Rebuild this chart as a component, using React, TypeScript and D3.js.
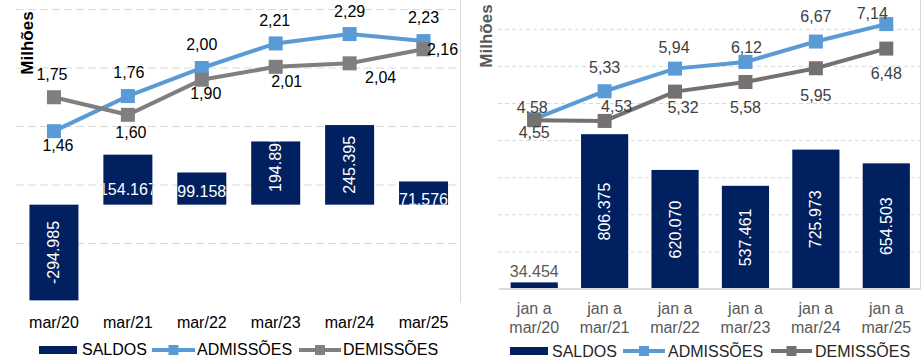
import React from "react";
import * as d3 from "d3";

// ---------- DATA ----------
const leftCategories = ["mar/20", "mar/21", "mar/22", "mar/23", "mar/24", "mar/25"];
const leftSaldos = [-294985, 154167, 99158, 194895, 245395, 71576];
const leftAdmissoes = [1.46, 1.76, 2.0, 2.21, 2.29, 2.23];
const leftDemissoes = [1.75, 1.6, 1.9, 2.01, 2.04, 2.16];

const rightCategories = [
  ["jan a", "mar/20"],
  ["jan a", "mar/21"],
  ["jan a", "mar/22"],
  ["jan a", "mar/23"],
  ["jan a", "mar/24"],
  ["jan a", "mar/25"],
];
const rightSaldos = [34454, 806375, 620070, 537461, 725973, 654503];
const rightAdmissoes = [4.58, 5.33, 5.94, 6.12, 6.67, 7.14];
const rightDemissoes = [4.55, 4.53, 5.32, 5.58, 5.95, 6.48];

const leftGridTicks = [0.5, 1.0, 1.5, 2.0, 2.5];
const rightGridTicks = [1, 2, 3, 4, 5, 6, 7];

// ---------- LABEL PLACEMENT (style, not data) ----------
const leftAdmOffsets = [[4, 14], [1, -24], [0, -24], [-1, -23], [0, -23], [0, -24]];
const leftDemOffsets = [[-2, -23], [3, 18], [4, 14], [11, 15], [31, 14], [19, 0]];
const leftBarLabelRotated = [true, false, false, true, true, false];
const leftBarLabelDy = [0, 10, 3, -10, 0, 6];

const rightAdmOffsets = [[-2, -12], [0, -24], [-1, -21], [1, -14], [0, -25], [-14, -11]];
const rightDemOffsets = [[0, 12], [12, -14], [8, 16], [0, 26], [0, 27], [0, 25]];

const loc = d3.formatLocale({
  decimal: ",",
  thousands: ".",
  grouping: [3],
  currency: ["R$", ""],
  minus: "-",
});
const fmtDec = loc.format(".2f");
const fmtInt = loc.format(",.0f");

const FONT = "'Liberation Sans', Arial, sans-serif";
const NAVY = "#002060";
const BLUE = "#5B9BD5";

function Line({ xs, ys, color, values, offsets, labelColor, id }) {
  const line = d3
    .line<number>()
    .x((_, i) => xs[i])
    .y((d) => ys(d));
  return (
    <g>
      <path d={line(values) || ""} fill="none" stroke={color} strokeWidth={4} />
      {values.map((v, i) => (
        <rect key={id + "m" + i} x={xs[i] - 7} y={ys(v) - 7} width={14} height={14} fill={color} />
      ))}
      {values.map((v, i) => (
        <text
          key={id + "t" + i}
          x={xs[i] + offsets[i][0]}
          y={ys(v) + offsets[i][1]}
          textAnchor="middle"
          dominantBaseline="central"
          fontSize={16}
          fill={labelColor}
        >
          {fmtDec(v)}
        </text>
      ))}
    </g>
  );
}

function LeftChart() {
  const x = d3.scaleBand<string>().domain(leftCategories).range([17, 460.5]).paddingInner(0.337).paddingOuter(0.1685);
  const yL = d3.scaleLinear().domain([0, 2.5]).range([302, 9.5]);
  const yB = d3.scaleLinear().domain([-300000, 600000]).range([302, 10]);
  const cx = leftCategories.map((c) => (x(c) as number) + x.bandwidth() / 2);
  const bw = x.bandwidth();
  return (
    <g fontFamily={FONT}>
      <defs>
        {leftSaldos.map((v, i) => (
          <clipPath id={"lc" + i} key={"lc" + i}>
            <rect x={x(leftCategories[i])} y={Math.min(yB(v), yB(0))} width={bw} height={Math.abs(yB(v) - yB(0))} />
          </clipPath>
        ))}
      </defs>
      {leftGridTicks.map((t) => (
        <line key={t} x1={16} x2={460} y1={yL(t)} y2={yL(t)} stroke="#D9D9D9" strokeWidth={1} strokeDasharray="8,4" />
      ))}
      <line x1={460.5} x2={460.5} y1={0} y2={303} stroke="#D9D9D9" strokeWidth={1} />
      {leftSaldos.map((v, i) => (
        <rect
          key={"b" + i}
          x={x(leftCategories[i])}
          y={Math.min(yB(v), yB(0))}
          width={bw}
          height={Math.abs(yB(v) - yB(0))}
          fill={NAVY}
        />
      ))}
      {leftSaldos.map((v, i) => {
        const mid = (yB(v) + yB(0)) / 2 + leftBarLabelDy[i];
        return (
          <g key={"bl" + i} clipPath={`url(#lc${i})`}>
            <text
              transform={`translate(${cx[i]},${mid})${leftBarLabelRotated[i] ? " rotate(-90)" : ""}`}
              textAnchor="middle"
              dominantBaseline="central"
              fontSize={16}
              fill="#FFFFFF"
            >
              {fmtInt(v)}
            </text>
          </g>
        );
      })}
      <Line xs={cx} ys={yL} color={BLUE} values={leftAdmissoes} offsets={leftAdmOffsets} labelColor="#000000" id="la" />
      <Line xs={cx} ys={yL} color="#7F7F7F" values={leftDemissoes} offsets={leftDemOffsets} labelColor="#000000" id="ld" />
      {leftCategories.map((c, i) => (
        <text key={c} x={cx[i]} y={322} textAnchor="middle" dominantBaseline="central" fontSize={16} fill="#000000">
          {c}
        </text>
      ))}
      <text
        transform="translate(27,43) rotate(-90)"
        textAnchor="middle"
        dominantBaseline="central"
        fontSize={17}
        fontWeight="bold"
        fill="#000000"
      >
        Milhões
      </text>
      {/* legend */}
      <g fontSize={16} fill="#000000">
        <rect x={39} y={346} width={38} height={8} fill={NAVY} />
        <text x={82} y={349} dominantBaseline="central">SALDOS</text>
        <line x1={152} x2={195} y1={350} y2={350} stroke={BLUE} strokeWidth={4} />
        <rect x={168.5} y={345} width={10} height={10} fill={BLUE} />
        <text x={197} y={349} dominantBaseline="central">ADMISSÕES</text>
        <line x1={299} x2={341} y1={350} y2={350} stroke="#7F7F7F" strokeWidth={4} />
        <rect x={315} y={345} width={10} height={10} fill="#7F7F7F" />
        <text x={343} y={349} dominantBaseline="central">DEMISSÕES</text>
      </g>
    </g>
  );
}

function RightChart() {
  const keys = rightCategories.map((c) => c.join(" "));
  const x = d3.scaleBand<string>().domain(keys).range([499, 921.5]).paddingInner(0.33).paddingOuter(0.165);
  const yL = d3.scaleLinear().domain([0, 8]).range([289, -7.8]);
  const yB = d3.scaleLinear().domain([0, 1500000]).range([289, 1]);
  const cx = keys.map((c) => (x(c) as number) + x.bandwidth() / 2);
  const bw = x.bandwidth();
  const GRAY = "#767171";
  return (
    <g fontFamily={FONT}>
      {rightGridTicks.map((t) => (
        <line key={t} x1={498} x2={920} y1={yL(t)} y2={yL(t)} stroke="#D9D9D9" strokeWidth={1} strokeDasharray="4,3" />
      ))}
      <line x1={920.5} x2={920.5} y1={0} y2={290} stroke="#D9D9D9" strokeWidth={1} />
      {rightSaldos.map((v, i) => (
        <rect key={"b" + i} x={x(keys[i])} y={yB(v)} width={bw} height={yB(0) - yB(v)} fill={NAVY} />
      ))}
      {rightSaldos.map((v, i) => {
        const h = yB(0) - yB(v);
        if (h < 60) {
          return (
            <text key={"bl" + i} x={cx[i]} y={yB(v) - 11} textAnchor="middle" dominantBaseline="central" fontSize={16} fill="#595959">
              {fmtInt(v)}
            </text>
          );
        }
        return (
          <text
            key={"bl" + i}
            transform={`translate(${cx[i]},${(yB(v) + yB(0)) / 2}) rotate(-90)`}
            textAnchor="middle"
            dominantBaseline="central"
            fontSize={16}
            fill="#FFFFFF"
          >
            {fmtInt(v)}
          </text>
        );
      })}
      <line x1={499} x2={920} y1={289} y2={289} stroke="#D9D9D9" strokeWidth={2} />
      <Line xs={cx} ys={yL} color={BLUE} values={rightAdmissoes} offsets={rightAdmOffsets} labelColor="#404040" id="ra" />
      <Line xs={cx} ys={yL} color={GRAY} values={rightDemissoes} offsets={rightDemOffsets} labelColor="#404040" id="rd" />
      {rightCategories.map((c, i) => (
        <g key={"x" + i}>
          <text x={cx[i]} y={308} textAnchor="middle" dominantBaseline="central" fontSize={16} fill="#595959">
            {c[0]}
          </text>
          <text x={cx[i]} y={327} textAnchor="middle" dominantBaseline="central" fontSize={16} fill="#595959">
            {c[1]}
          </text>
        </g>
      ))}
      <text
        transform="translate(486,36) rotate(-90)"
        textAnchor="middle"
        dominantBaseline="central"
        fontSize={17}
        fontWeight="bold"
        fill="#595959"
      >
        Milhões
      </text>
      <g fontSize={16} fill="#262626">
        <rect x={510} y={347} width={38} height={8} fill={NAVY} />
        <text x={552} y={351} dominantBaseline="central">SALDOS</text>
        <line x1={623} x2={665} y1={351} y2={351} stroke={BLUE} strokeWidth={4} />
        <rect x={639} y={346} width={10} height={10} fill={BLUE} />
        <text x={668} y={351} dominantBaseline="central">ADMISSÕES</text>
        <line x1={771} x2={812} y1={351} y2={351} stroke={GRAY} strokeWidth={4} />
        <rect x={786.5} y={346} width={10} height={10} fill={GRAY} />
        <text x={815} y={351} dominantBaseline="central">DEMISSÕES</text>
      </g>
    </g>
  );
}

export default function App() {
  return (
    <svg
      width={922}
      height={364}
      viewBox="0 0 922 364"
      style={{ position: "absolute", left: 0, top: 0, background: "#FFFFFF" }}
    >
      <rect x={0} y={0} width={922} height={364} fill="#FFFFFF" />
      <LeftChart />
      <RightChart />
    </svg>
  );
}
